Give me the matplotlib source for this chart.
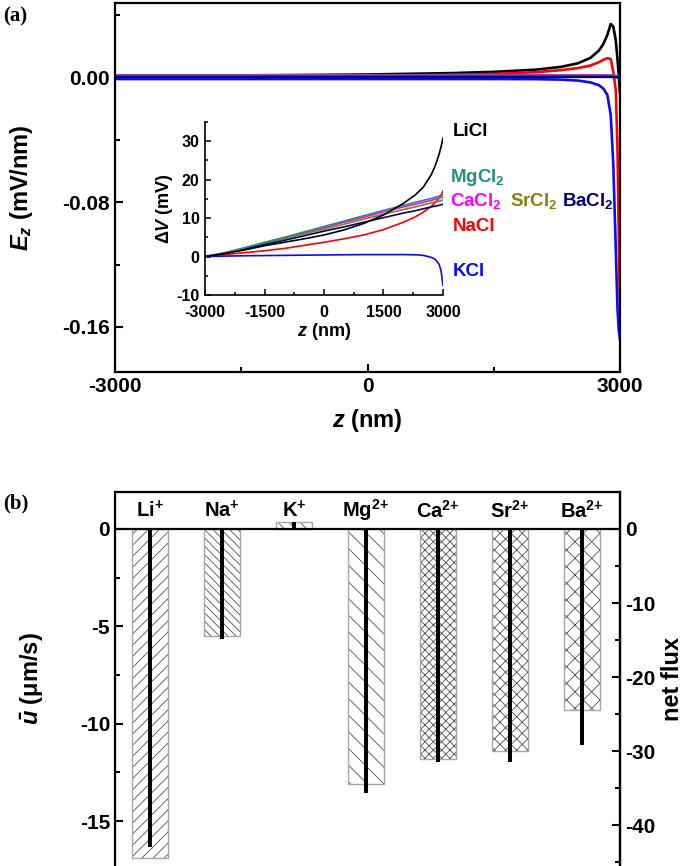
import numpy as np
import matplotlib
matplotlib.use("Agg")
import matplotlib.pyplot as plt
from matplotlib.ticker import MultipleLocator, FormatStrFormatter

plt.rcParams['font.family'] = ['Liberation Sans', 'DejaVu Sans']
plt.rcParams['font.weight'] = 'bold'
plt.rcParams['axes.labelweight'] = 'bold'
plt.rcParams['axes.unicode_minus'] = False
plt.rcParams['mathtext.fontset'] = 'custom'
plt.rcParams['mathtext.rm'] = 'Liberation Sans:bold'
plt.rcParams['mathtext.it'] = 'Liberation Sans:italic:bold'
plt.rcParams['mathtext.bf'] = 'Liberation Sans:bold'
plt.rcParams['hatch.linewidth'] = 0.6

# === (a) main panel: E_z (mV/nm) vs z (nm) ===
z_main = [-3000, -2000, -1000, 0, 1000, 1500, 2000, 2300, 2500, 2650,
          2750, 2800, 2850, 2890, 2920, 2950, 2970, 2985, 3000]
ez_licl = [0.0012, 0.0014, 0.0017, 0.0021, 0.0030, 0.0038, 0.0052, 0.0070, 0.0093, 0.0128,
           0.0175, 0.0215, 0.0275, 0.0345, 0.0330, 0.0240, 0.0120, 0.0020, -0.0100]
ez_nacl = [0.0003, 0.0005, 0.0008, 0.0012, 0.0019, 0.0025, 0.0036, 0.0049, 0.0062, 0.0079,
           0.0100, 0.0115, 0.0126, 0.0120, 0.0040, -0.0080, -0.0450, -0.1000, -0.1500]
ez_kcl = [-0.0008, -0.0008, -0.0008, -0.0008, -0.0008, -0.0008, -0.0009, -0.0012, -0.0018, -0.0030,
          -0.0048, -0.0068, -0.0110, -0.0240, -0.0550, -0.1100, -0.1480, -0.1620, -0.1680]
ez_mgcl2 = [0.0016, 0.0016, 0.0016, 0.0016, 0.0016, 0.0016, 0.0016, 0.0016, 0.0016, 0.0016,
            0.0016, 0.0016, 0.0015, 0.0015, 0.0014, 0.0012, 0.0010, 0.0006, 0.0000]
ez_cacl2 = [0.0013, 0.0013, 0.0013, 0.0013, 0.0013, 0.0013, 0.0013, 0.0013, 0.0013, 0.0013,
            0.0013, 0.0013, 0.0013, 0.0012, 0.0012, 0.0010, 0.0008, 0.0005, 0.0000]
ez_srcl2 = [0.0010, 0.0010, 0.0010, 0.0010, 0.0010, 0.0010, 0.0010, 0.0010, 0.0010, 0.0010,
            0.0010, 0.0010, 0.0010, 0.0010, 0.0009, 0.0008, 0.0006, 0.0004, 0.0000]
ez_bacl2 = [0.0006, 0.0006, 0.0006, 0.0006, 0.0006, 0.0006, 0.0006, 0.0006, 0.0006, 0.0006,
            0.0006, 0.0006, 0.0006, 0.0006, 0.0005, 0.0004, 0.0003, 0.0002, 0.0000]

# === (a) inset: delta V (mV) vs z (nm) ===
z_in = [-3000, -2500, -2000, -1500, -1000, -500, 0, 500, 1000, 1500,
        2000, 2300, 2500, 2700, 2800, 2900, 2950, 3000]
dv_licl = [0, 0.8, 1.7, 2.8, 3.7, 4.6, 5.6, 6.9, 8.6, 10.8, 13.8, 16.0, 18.0, 21.2, 23.5, 26.5, 28.5, 30.8]
dv_nacl = [0, 0.5, 1.0, 1.5, 2.1, 2.9, 3.7, 4.6, 5.6, 7.0, 8.9, 10.3, 11.5, 13.0, 14.0, 15.2, 16.0, 17.0]
dv_kcl = [0, 0.1, 0.2, 0.25, 0.3, 0.35, 0.4, 0.45, 0.5, 0.5, 0.5, 0.45, 0.3, -0.2, -0.7, -2.0, -3.6, -7.5]
dv_mgcl2 = [0, 1.0, 2.3, 3.7, 5.0, 6.4, 7.8, 9.2, 10.6, 12.0, 13.3, 14.1, 14.6, 15.1, 15.4, 15.7, 15.85, 16.0]
dv_cacl2 = [0, 0.9, 2.2, 3.5, 4.8, 6.2, 7.5, 8.9, 10.2, 11.6, 12.9, 13.6, 14.1, 14.6, 14.9, 15.2, 15.35, 15.5]
dv_srcl2 = [0, 0.9, 2.1, 3.4, 4.6, 5.9, 7.1, 8.4, 9.7, 11.0, 12.2, 12.9, 13.4, 13.9, 14.2, 14.4, 14.55, 14.7]
dv_bacl2 = [0, 0.8, 1.9, 3.1, 4.2, 5.4, 6.6, 7.7, 8.9, 10.1, 11.3, 11.9, 12.4, 12.9, 13.1, 13.3, 13.45, 13.6]

salt_names = ['LiCl', 'NaCl', 'KCl', r'MgCl$_2$', r'CaCl$_2$', r'SrCl$_2$', r'BaCl$_2$']
salt_colors = ['black', '#ff0000', '#0a0aff', '#23907f', '#ff00ff', '#84840a', '#00007a']

# === (b) bars ===
ions = [r'Li$^{+}$', r'Na$^{+}$', r'K$^{+}$', r'Mg$^{2{+}}$', r'Ca$^{2{+}}$', r'Sr$^{2{+}}$', r'Ba$^{2{+}}$']
u_bar = [-16.9, -5.5, 0.35, -13.1, -11.8, -11.4, -9.3]      # um/s
net_flux = [-43.0, -14.9, 0.9, -35.7, -31.5, -31.5, -29.2]
hatches = ['///', '\\\\\\\\', '\\\\\\', '\\\\', 'xxxx', 'xxx', 'xx']

fig = plt.figure(figsize=(6.85, 8.66), dpi=100)

# ---- panel (a) ----
ax = fig.add_axes([0.1679, 0.5704, 0.7372, 0.4261])
ez_all = [ez_licl, ez_nacl, ez_kcl, ez_mgcl2, ez_cacl2, ez_srcl2, ez_bacl2]
order = [0, 1, 3, 4, 5, 2, 6]
for i in order:
    ax.plot(z_main, ez_all[i], color=salt_colors[i], lw=1.9)
ax.set_xlim(-3000, 3000)
ax.set_ylim(-0.189, 0.048)
ax.set_xticks([-3000, 0, 3000])
ax.xaxis.set_minor_locator(MultipleLocator(1500))
ax.set_yticks([-0.16, -0.08, 0.0])
ax.yaxis.set_minor_locator(MultipleLocator(0.04))
ax.yaxis.set_major_formatter(FormatStrFormatter('%.2f'))
ax.tick_params(which='both', direction='in', width=1.5, labelsize=15)
ax.tick_params(which='major', length=6)
ax.tick_params(which='minor', length=3.5)
for s in ax.spines.values():
    s.set_linewidth(1.6)
ax.set_xlabel(r'$z$ (nm)', fontsize=17, labelpad=8)
ax.set_ylabel(r'$E_z$ (mV/nm)', fontsize=17, labelpad=20)

# ---- inset ----
axi = fig.add_axes([0.2993, 0.6594, 0.3474, 0.1998])
dv_all = [dv_licl, dv_nacl, dv_kcl, dv_mgcl2, dv_cacl2, dv_srcl2, dv_bacl2]
for i in [1, 2, 4, 5, 6, 3, 0]:
    axi.plot(z_in, dv_all[i], color=salt_colors[i], lw=1.2)
axi.set_xlim(-3000, 3000)
axi.set_ylim(-10, 35)
axi.set_xticks([-3000, -1500, 0, 1500, 3000])
axi.xaxis.set_minor_locator(MultipleLocator(750))
axi.set_yticks([-10, 0, 10, 20, 30])
axi.yaxis.set_minor_locator(MultipleLocator(5))
axi.spines['top'].set_visible(False)
axi.spines['right'].set_visible(False)
for s in ['left', 'bottom']:
    axi.spines[s].set_linewidth(1.2)
axi.patch.set_alpha(0)
axi.tick_params(which='both', direction='in', width=1.1, labelsize=11.5)
axi.tick_params(axis='x', pad=7)
axi.tick_params(axis='y', pad=4)
axi.tick_params(which='major', length=4)
axi.tick_params(which='minor', length=2.5)
axi.set_xlabel(r'$z$ (nm)', fontsize=13, labelpad=1)
axi.set_ylabel(r'$\mathit{\Delta V}$ (mV)', fontsize=13, labelpad=1)

# curve labels next to the inset
lab_pos = [(3250, 32.5), (3250, 7.9), (3250, -3.8), (3180, 20.6), (3180, 14.4), (4690, 14.4), (6000, 14.4)]
for i, name in enumerate(salt_names):
    axi.text(lab_pos[i][0], lab_pos[i][1], name, color=salt_colors[i], fontsize=13.5,
             ha='left', va='center', clip_on=False)

# ---- panel (b) ----
axb = fig.add_axes([0.1679, 0.0, 0.7372, 0.4319])
x = np.arange(1, len(ions) + 1)
axb.bar(x, u_bar, width=0.5, color='white', edgecolor='#505050', hatch=hatches, lw=0, zorder=2)
axb.bar(x, u_bar, width=0.5, fill=False, edgecolor='#a8a8a8', lw=1.0, zorder=3)
axb.axhline(0, color='black', lw=1.6, zorder=4)
axb.set_xlim(0.515, 7.53)
axb.set_ylim(-17.3, 1.9)
axb.set_xticks([])
axb.set_yticks([-15, -10, -5, 0])
axb.yaxis.set_minor_locator(MultipleLocator(2.5))
axb.spines['bottom'].set_visible(False)
for s in ['left', 'right', 'top']:
    axb.spines[s].set_linewidth(1.6)
axb.tick_params(which='both', direction='in', width=1.5, labelsize=15)
axb.tick_params(which='major', length=6)
axb.tick_params(which='minor', length=3.5)
axb.set_ylabel(r'$\bar{u}$ (μm/s)', fontsize=17, labelpad=24)
for xi, name in zip(x, ions):
    axb.text(xi, 0.95, name, ha='center', va='center', fontsize=14.5)

ax2 = axb.twinx()
ax2.bar(x, net_flux, width=0.055, color='black', zorder=5)
ax2.set_ylim(-17.3 * 2.63, 1.9 * 2.63)
ax2.set_yticks([-40, -30, -20, -10, 0])
ax2.yaxis.set_minor_locator(MultipleLocator(5))
ax2.spines['bottom'].set_visible(False)
ax2.spines['right'].set_linewidth(1.6)
ax2.tick_params(which='both', direction='in', width=1.5, labelsize=15)
ax2.tick_params(which='major', length=6)
ax2.tick_params(which='minor', length=3.5)
ax2.set_ylabel('net flux', fontsize=17, labelpad=4)

fig.text(0.005, 1 - 16 / 866, '(a)', family='Liberation Serif', fontsize=15, weight='bold', va='center')
fig.text(0.005, 1 - 503 / 866, '(b)', family='Liberation Serif', fontsize=15, weight='bold', va='center')

fig.savefig('out.png', dpi=100)
